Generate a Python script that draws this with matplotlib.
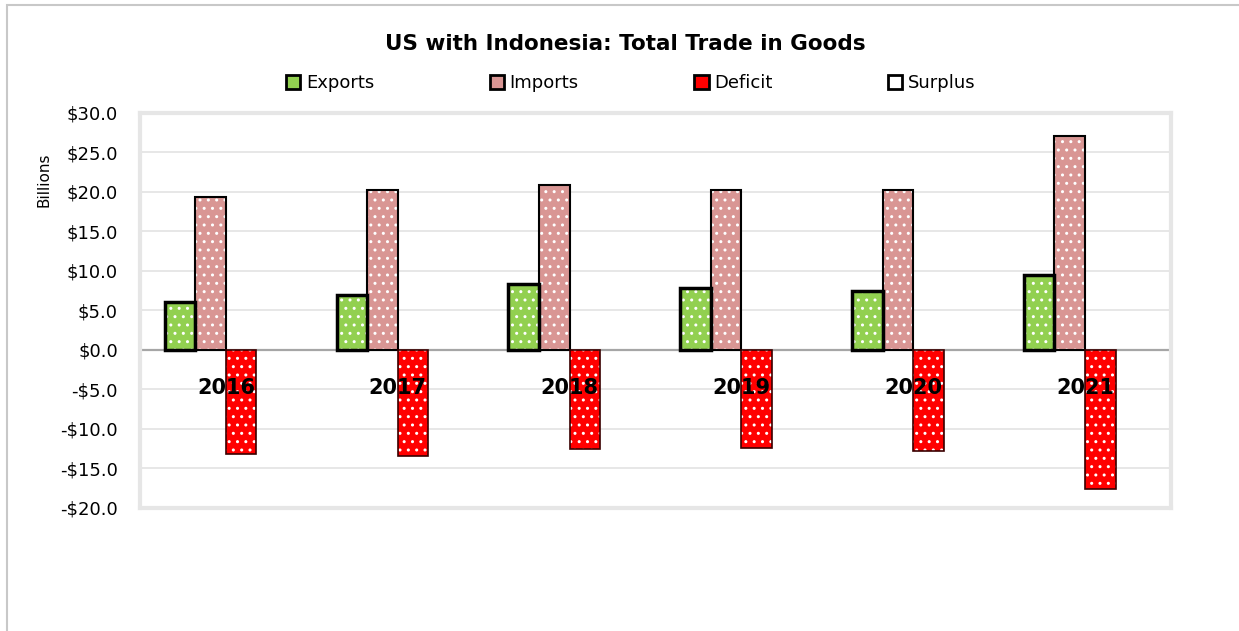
import numpy as np
import matplotlib.pyplot as plt
from matplotlib.patches import Patch

years = ["2016", "2017", "2018", "2019", "2020", "2021"]
exports = [6.1, 7.0, 8.3, 7.8, 7.4, 9.5]
imports = [19.3, 20.3, 20.9, 20.2, 20.3, 27.1]
deficit = [-13.2, -13.4, -12.6, -12.4, -12.8, -17.6]
surplus = [0, 0, 0, 0, 0, 0]

fig = plt.figure(figsize=(12.39, 6.31), dpi=100)
# outer chart border
fig.patches.append(plt.Rectangle((0.006, -0.1), 1.1, 1.092, transform=fig.transFigure,
                                 fill=False, edgecolor="#C8C8C8", linewidth=1.5))
ax = fig.add_axes([0.113, 0.195, 0.832, 0.626])

x = np.arange(len(years))
w = 0.178
series = [
    (exports, "#92D050", "black", 2.5, "Exports"),
    (imports, "#D99694", "black", 1.5, "Imports"),
    (deficit, "#FF0000", "#3a0000", 1.2, "Deficit"),
    (surplus, "white", "black", 1.5, "Surplus"),
]
for i, (vals, fc, ec, lw, name) in enumerate(series):
    pos = x + (i - 1.5) * w
    if name == "Surplus":
        continue
    ax.bar(pos, vals, w, color=fc, edgecolor="white", hatch="..", linewidth=0, zorder=3)
    ax.bar(pos, vals, w, fill=False, edgecolor=ec, linewidth=lw, zorder=4)

ax.set_ylim(-20, 30)
ax.set_xlim(-0.5, len(years) - 0.5)
ax.set_yticks(np.arange(-20, 31, 5))
ax.set_yticklabels([("-$%.1f" % abs(v)) if v < 0 else ("$%.1f" % v) for v in np.arange(-20, 31, 5)],
                   fontsize=13)
ax.set_xticks([])
ax.tick_params(axis="y", length=0, pad=16)
ax.yaxis.grid(True, color="#E3E3E3", linewidth=1.2, zorder=0)
ax.set_axisbelow(True)
ax.axhline(0, color="#A6A6A6", linewidth=1.6, zorder=2)
for s in ax.spines.values():
    s.set_color("#E6E6E6")
    s.set_linewidth(3)

for xi, yr in zip(x, years):
    ax.text(xi, -4.8, yr, ha="center", va="center", fontsize=15, fontweight="bold", zorder=5)

ax.set_ylabel("Billions", fontsize=11)
ax.yaxis.set_label_coords(-0.086, 0.83)

fig.text(0.505, 0.93, "US with Indonesia: Total Trade in Goods", ha="center", va="center",
         fontsize=15.5, fontweight="bold")

handles = [Patch(facecolor=fc, edgecolor="black", linewidth=2, label=name)
           for (_, fc, _, _, name) in series]
fig.legend(handles=handles, loc="center", bbox_to_anchor=(0.509, 0.868), ncol=4, frameon=False,
           fontsize=13, handlelength=0.8, handleheight=0.8, handletextpad=0.3, columnspacing=6.4)

plt.savefig("out.png", dpi=100)
